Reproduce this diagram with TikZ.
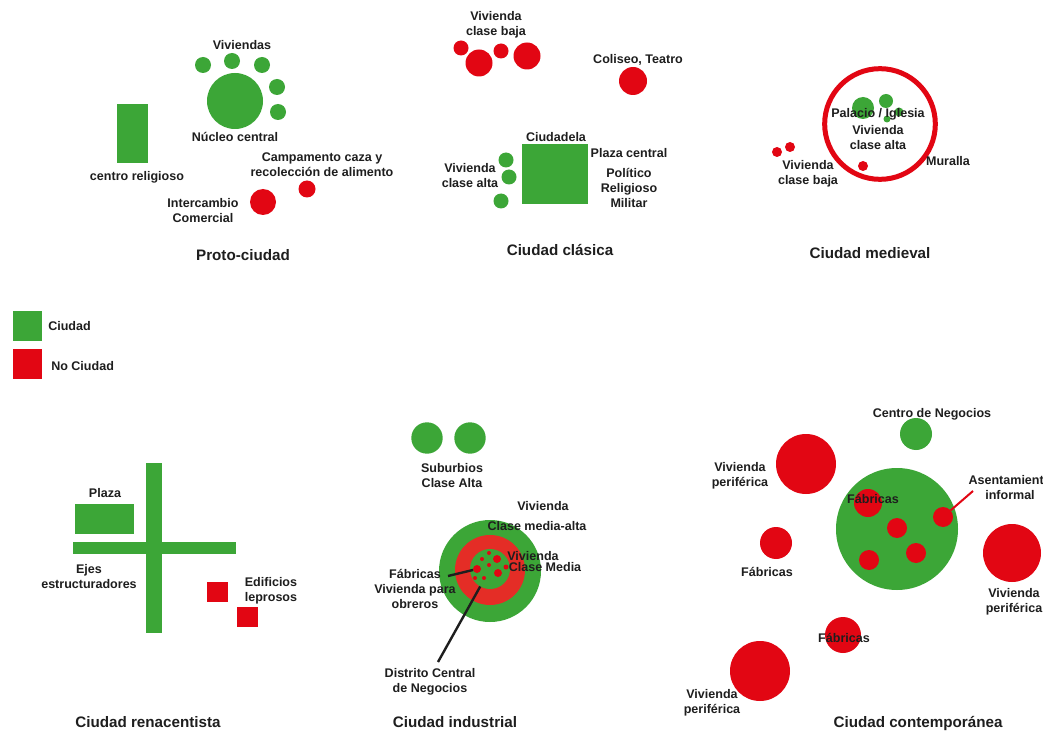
\documentclass[tikz,border=0pt]{standalone}
\usepackage{fontspec}
\setmainfont{Liberation Sans}
\definecolor{cgreen}{RGB}{60,166,55}
\definecolor{cred}{RGB}{226,6,19}
\definecolor{cring}{RGB}{228,45,38}
\definecolor{ctext}{RGB}{30,30,30}
\tikzset{
  dot/.style={circle,inner sep=0pt,outer sep=0pt,minimum size=#1*1.5pt},
  gdot/.style={dot=#1,fill=cgreen},
  rdot/.style={dot=#1,fill=cred},
  lbl/.style={font=\fontsize{9.4}{11.25}\selectfont\bfseries,align=center,inner sep=0pt,text=ctext},
  ttl/.style={font=\fontsize{11.4}{13}\selectfont\bfseries,align=center,inner sep=0pt,text=ctext},
  pointer/.style={draw=ctext,line width=1.8pt},
  rpointer/.style={draw=cred,line width=1.5pt}
}
\begin{document}
\begin{tikzpicture}[x=0.75pt,y=-0.75pt]
\useasboundingbox (0,0) rectangle (1043,731);
\fill[white] (0,0) rectangle (1043,731);

% ---------------- Proto-ciudad
\fill[cgreen] (117,104) rectangle (148,163);
\node[gdot=28] (nucleo) at (235,101) {};
\node[gdot=8] (pv1) at (203,65) {};
\node[gdot=8] (pv2) at (232,61) {};
\node[gdot=8] (pv3) at (262,65) {};
\node[gdot=8] (pv4) at (277,87) {};
\node[gdot=8] (pv5) at (278,112) {};
\node[rdot=8.5] (pcamp) at (307,189) {};
\node[rdot=13] (pinter) at (263,202) {};
\node[lbl] (tviv) at (242,45) {Viviendas};
\node[lbl] (tnuc) at (235,137) {Núcleo central};
\node[lbl] (trel) at (137,177) {centro religioso};
\node[lbl] (tcamp) at (322,165) {Campamento caza y\\recolección de alimento};
\node[lbl] (tinter) at (203,211) {Intercambio\\Comercial};
\node[ttl] (tproto) at (243,255) {Proto-ciudad};

% ---------------- Ciudad clasica
\node[rdot=7.5] (cb1) at (461,48) {};
\node[rdot=13.5] (cb2) at (479,63) {};
\node[rdot=7.5] (cb3) at (501,51) {};
\node[rdot=13.5] (cb4) at (527,56) {};
\node[rdot=14] (ccol) at (633,81) {};
\fill[cgreen] (522,144) rectangle (588,204);
\node[gdot=7.5] (ca1) at (506,160) {};
\node[gdot=7.5] (ca2) at (509,177) {};
\node[gdot=7.5] (ca3) at (501,201) {};
\node[lbl] (tcbaja) at (496,25) {Vivienda\\clase baja};
\node[lbl] (tcol) at (638,60) {Coliseo, Teatro};
\node[lbl] (tciud) at (556,137) {Ciudadela};
\node[lbl] (tplaza) at (629,153) {Plaza central};
\node[lbl] (tpol) at (629,188) {Político\\Religioso\\Militar};
\node[lbl] (tcalta) at (470,176) {Vivienda\\clase alta};
\node[ttl] (tclas) at (560,250) {Ciudad clásica};

% ---------------- Ciudad medieval
\node[circle,draw=cred,line width=3.75pt,inner sep=0pt,minimum size=83pt] (muralla) at (880,124) {};
\node[gdot=11] (mg1) at (863,108) {};
\node[gdot=7] (mg2) at (886,101) {};
\node[gdot=4.5] (mg3) at (899,112) {};
\node[gdot=3.5] (mg4) at (887,119) {};
\node[rdot=5] (mr1) at (863,166) {};
\node[rdot=5] (mr2) at (777,152) {};
\node[rdot=5] (mr3) at (790,147) {};
\node[lbl] (tpal) at (878,114) {Palacio / Iglesia};
\node[lbl] (tmalta) at (878,137.5) {Vivienda\\clase alta};
\node[lbl] (tmbaja) at (808,174) {Vivienda\\clase baja};
\node[lbl] (tmur) at (948,161) {Muralla};
\node[ttl] (tmed) at (870,253) {Ciudad medieval};

% ---------------- Leyenda
\fill[cgreen] (13,311) rectangle (42,341);
\node[lbl,anchor=west] (lciud) at (48,326) {Ciudad};
\fill[cred] (13,349) rectangle (42,379);
\node[lbl,anchor=west] (lnociud) at (51,366) {No Ciudad};

% ---------------- Ciudad renacentista
\fill[cgreen] (146,463) rectangle (162,633);
\fill[cgreen] (73,542) rectangle (236,554);
\fill[cgreen] (75,504) rectangle (134,534);
\fill[cred] (207,582) rectangle (228,602);
\fill[cred] (237,607) rectangle (258,627);
\node[lbl] (tplz) at (105,493) {Plaza};
\node[lbl] (tejes) at (89,577) {Ejes\\estructuradores};
\node[lbl] (tlep) at (271,591) {Edificios\\leprosos};
\node[ttl] (tren) at (148,722) {Ciudad renacentista};

% ---------------- Ciudad industrial
\node[gdot=15.7] (is1) at (427,438) {};
\node[gdot=15.7] (is2) at (470,438) {};
\node[gdot=51] (iouter) at (490,571) {};
\node[dot=35,fill=cring] (iring) at (490,570) {};
\node[gdot=20] (iinner) at (490,569) {};
\node[rdot=4] (id1) at (477,569) {};
\node[rdot=4] (id2) at (497,559) {};
\node[rdot=4] (id3) at (498,573) {};
\node[rdot=2] (id4) at (482,559) {};
\node[rdot=2] (id5) at (489,553) {};
\node[rdot=2] (id6) at (489,565) {};
\node[rdot=2] (id7) at (475,578) {};
\node[rdot=2] (id8) at (484,578) {};
\node[rdot=2.5] (id9) at (506,567) {};
\node[lbl] (tsub) at (452,476) {Suburbios\\Clase Alta};
\node[lbl] (tiv1) at (543,506) {Vivienda};
\node[lbl] (tiv2) at (537,526) {Clase media-alta};
\node[lbl] (tiv3) at (533,556) {Vivienda};
\node[lbl] (tiv4) at (545,567) {Clase Media};
\node[lbl] (tfab) at (415,589) {Fábricas\\Vivienda para\\obreros};
\node[lbl] (tdcn) at (430,682) {Distrito Central\\de Negocios};
\coordinate (fabend) at (448,576);
\coordinate (dcntop) at (438,662);
\draw[pointer] (fabend) -- (id1);
\draw[pointer] (iinner) -- (dcntop);
\node[ttl] (tind) at (455,722) {Ciudad industrial};

% ---------------- Ciudad contemporanea
\node[gdot=16] (cneg) at (916,434) {};
\node[rdot=30] (cvp1) at (806,464) {};
\node[gdot=61] (cbig) at (897,529) {};
\node[rdot=14] (cf1) at (868,503) {};
\node[rdot=10] (cas) at (943,517) {};
\node[rdot=10] (cr2) at (897,528) {};
\node[rdot=10] (cr3) at (916,553) {};
\node[rdot=10] (cr4) at (869,560) {};
\node[rdot=29] (cvp2) at (1012,553) {};
\node[rdot=16] (cf2) at (776,543) {};
\node[rdot=18] (cf3) at (843,635) {};
\node[rdot=30] (cvp3) at (760,671) {};
\coordinate (asend) at (973,491);
\draw[rpointer] (cas) -- (asend);
\node[lbl] (tneg) at (932,414) {Centro de Negocios};
\node[lbl] (tvp1) at (740,476) {Vivienda\\periférica};
\node[lbl] (tf1) at (873,499) {Fábricas};
\node[lbl] (tas) at (1010,488) {Asentamiento\\informal};
\node[lbl] (tvp2) at (1014,602) {Vivienda\\periférica};
\node[lbl] (tf2) at (767,572) {Fábricas};
\node[lbl] (tf3) at (844,638) {Fábricas};
\node[lbl] (tvp3) at (712,703) {Vivienda\\periférica};
\node[ttl] (tcont) at (918,723) {Ciudad contemporánea};
\end{tikzpicture}
\end{document}
